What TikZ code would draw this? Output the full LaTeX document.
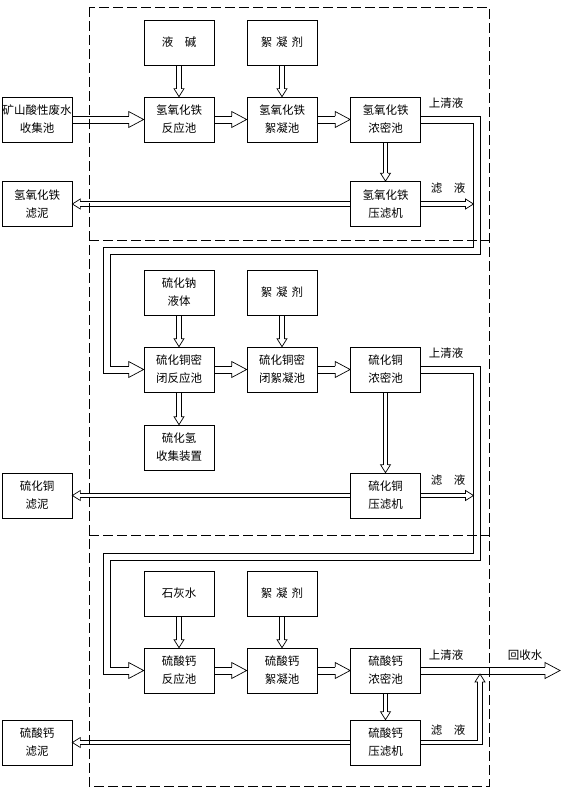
\documentclass[tikz,border=0pt]{standalone}
\usepackage{fontspec}
\newfontfamily\cjk{Noto Sans CJK SC}

\begin{document}
\begin{tikzpicture}[x=1bp, y=-1bp, line width=0.7bp,
  font=\cjk\fontsize{11.5bp}{18bp}\selectfont,
  box/.style={draw, minimum width=70bp, minimum height=45bp, inner sep=0pt, align=center},
  frame/.style={dash pattern=on 10bp off 4bp},
  bighead/.pic={\draw (-15,-3.5) -- (-15,-8) -- (0,0) -- (-15,8) -- (-15,3.5);},
  smallhead/.pic={\draw (-8,-2.25) -- (-8,-5) -- (0,0) -- (-8,5) -- (-8,2.25);}]
  \useasboundingbox (0,0) rectangle (567,792);

  % iron hydroxide stage
  \node[box] (lye)   at (179,42.5)    {液　碱};
  \node[box] (floc1) at (282,42.5)    {絮\hspace{4bp}凝\hspace{4bp}剂};
  \node[box] (mine)  at (37,119.5)    {矿山酸性废水\\收集池};
  \node[box] (rea1)  at (179,119.5)   {氢氧化铁\\反应池};
  \node[box] (coa1)  at (282,119.5)   {氢氧化铁\\絮凝池};
  \node[box] (thk1)  at (385.5,119.5) {氢氧化铁\\浓密池};
  \node[box] (prs1)  at (385.5,204)   {氢氧化铁\\压滤机};
  \node[box] (mud1)  at (37,204)      {氢氧化铁\\滤泥};
  \node (clr1) at (446,103) {上清液};
  \node (flt1) at (448,188) {滤　液};

  % copper sulfide stage
  \node[box] (nas)   at (179,292.5)   {硫化钠\\液体};
  \node[box] (floc2) at (282,292.5)   {絮\hspace{4bp}凝\hspace{4bp}剂};
  \node[box] (rea2)  at (179,369.5)   {硫化铜密\\闭反应池};
  \node[box] (coa2)  at (282,369.5)   {硫化铜密\\闭絮凝池};
  \node[box] (thk2)  at (385.5,369.5) {硫化铜\\浓密池};
  \node[box] (hs)    at (179,447.5)   {硫化氢\\收集装置};
  \node[box] (prs2)  at (385.5,495.5) {硫化铜\\压滤机};
  \node[box] (mud2)  at (37,495.5)    {硫化铜\\滤泥};
  \node (clr2) at (446,353) {上清液};
  \node (flt2) at (448,480) {滤　液};

  % calcium sulfate stage
  \node[box] (lime)  at (179,593.5)   {石灰水};
  \node[box] (floc3) at (282,593.5)   {絮\hspace{4bp}凝\hspace{4bp}剂};
  \node[box] (rea3)  at (179,670.5)   {硫酸钙\\反应池};
  \node[box] (coa3)  at (282,670.5)   {硫酸钙\\絮凝池};
  \node[box] (thk3)  at (385.5,670.5) {硫酸钙\\浓密池};
  \node[box] (prs3)  at (385.5,742.5) {硫酸钙\\压滤机};
  \node[box] (mud3)  at (37,742.5)    {硫酸钙\\滤泥};
  \node (clr3) at (446,655) {上清液};
  \node (flt3) at (448,730) {滤　液};
  \node (back) at (525,655) {回收水};

  \coordinate (e1) at (480.5,254); \coordinate (w1) at (110.5,254);
  \coordinate (e1i) at (473.5,247); \coordinate (w1i) at (103.5,247);
  \coordinate (e2) at (480.5,560); \coordinate (w2) at (110.5,560);
  \coordinate (e2i) at (473.5,553); \coordinate (w2i) at (103.5,553);
  \coordinate (f1) at (473.5,204); \coordinate (f2) at (473.5,495.5);
  \coordinate (out) at (560,670.5);
  \coordinate (join) at (480,674);

  \foreach \a/\b in {mine/rea1, rea1/coa1, coa1/thk1, rea2/coa2, coa2/thk2, rea3/coa3, coa3/thk3} {
    \foreach \s in {-3.5,3.5}
      \draw ([yshift=\s bp]\a.east) -- ([yshift=\s bp, xshift=-15bp]\b.west);
    \pic at (\b.west) {bighead};
  }
  \foreach \a/\b in {lye/rea1, floc1/coa1, thk1/prs1, nas/rea2, floc2/coa2, rea2/hs, thk2/prs2, lime/rea3, floc3/coa3, thk3/prs3} {
    \foreach \s in {-2.25,2.25}
      \draw ([xshift=\s bp]\a.south) -- ([xshift=\s bp, yshift=8bp]\b.north);
    \pic[rotate=-90] at (\b.north) {smallhead};
  }
  \foreach \a/\b in {prs1/mud1, prs2/mud2, prs3/mud3} {
    \foreach \s in {-2.25,2.25}
      \draw ([yshift=\s bp]\a.west) -- ([yshift=\s bp, xshift=8bp]\b.east);
    \pic[rotate=180] at (\b.east) {smallhead};
  }

  \draw ([yshift=3.5bp]thk1.east) -| (e1) -- (w1) |- ([yshift=3.5bp, xshift=-15bp]rea2.west);
  \draw ([yshift=-3.5bp]thk1.east) -| (e1i) -- (w1i) |- ([yshift=-3.5bp, xshift=-15bp]rea2.west);
  \pic at (rea2.west) {bighead};
  \draw ([yshift=3.5bp]thk2.east) -| (e2) -- (w2) |- ([yshift=3.5bp, xshift=-15bp]rea3.west);
  \draw ([yshift=-3.5bp]thk2.east) -| (e2i) -- (w2i) |- ([yshift=-3.5bp, xshift=-15bp]rea3.west);
  \pic at (rea3.west) {bighead};
  \foreach \s in {-3.5,3.5}
    \draw ([yshift=\s bp]thk3.east) -- ([yshift=\s bp, xshift=-15bp]out);
  \pic at (out) {bighead};

  \foreach \s in {-2.25,2.25} {
    \draw ([yshift=\s bp]prs1.east) -- ([yshift=\s bp, xshift=-8bp]f1);
    \draw ([yshift=\s bp]prs2.east) -- ([yshift=\s bp, xshift=-8bp]f2);
  }
  \pic at (f1) {smallhead};
  \pic at (f2) {smallhead};
  \draw ([yshift=2.25bp]prs3.east) -| ([xshift=-2.25bp, yshift=-8bp]join);
  \draw ([yshift=-2.25bp]prs3.east) -| ([xshift=2.25bp, yshift=-8bp]join);
  \pic[rotate=90] at (join) {smallhead};

  \draw[frame] (89,7) rectangle (489,786);
  \draw[frame] (89,240) -- (489,240);
  \draw[frame] (89,535) -- (489,535);
\end{tikzpicture}
\end{document}
